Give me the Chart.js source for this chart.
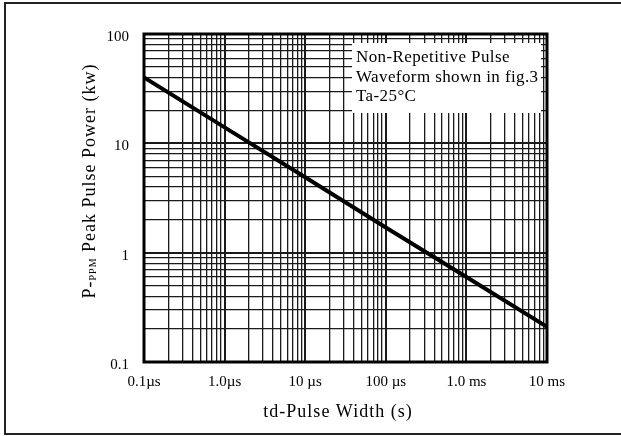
<!DOCTYPE html>
<html>
<head>
<meta charset="utf-8">
<script src="https://cdn.jsdelivr.net/npm/chart.js@4"></script>
<style>
  html, body { margin: 0; padding: 0; background: #fff; }
  canvas { display: block; }
</style>
</head>
<body>
<canvas id="chart" width="621" height="436"></canvas>
<script>
// Valores (anchura en s, potencia en kW)
const pulseWidth = [1e-7, 1e-6, 1e-5, 1e-4, 1e-3, 1e-2];
const peakPower = [40, 14, 4.9, 1.7, 0.6, 0.21];

// Décadas y etiquetas de los ejes
const xDecades = [1e-7, 1e-6, 1e-5, 1e-4, 1e-3, 1e-2];
const xTickLabels = ['0.1µs', '1.0µs', '10 µs', '100 µs', '1.0 ms', '10 ms'];
const yDecades = [0.1, 1, 10, 100];
const yTickLabels = ['0.1', '1', '10', '100'];

const noteLines = ['Non-Repetitive Pulse', 'Waveform shown in fig.3', 'Ta-25°C'];
const xTitle = 'td-Pulse Width (s)';

const serif = '"Liberation Serif", "DejaVu Serif", serif';

// Rejilla 1..9 en cada década
function logGrid(decades) {
    const ticks = [];
    decades.forEach((d, i) => {
        if (i === decades.length - 1) {
            ticks.push({ value: d });
            return;
        }
        for (let k = 1; k < 10; k++) {
            ticks.push({ value: Number((k * d).toPrecision(2)) });
        }
    });
    return ticks;
}

function labelFor(value, decades, labels) {
    const i = decades.findIndex(d => Math.abs(d - value) / d < 1e-6);
    return i >= 0 ? labels[i] : '';
}

function isDecade(value) {
    const l = Math.log10(value);
    return Math.abs(l - Math.round(l)) < 1e-6;
}

// Textos, recuadro y marcos
const annotate = {
    id: 'annotate',
    afterDraw(chart) {
        const { ctx, chartArea: a } = chart;
        ctx.save();

        // recuadro de la nota
        ctx.fillStyle = '#fff';
        ctx.fillRect(a.left + 208, a.top + 9, 189, 70);
        ctx.fillStyle = '#000';
        ctx.font = '17px ' + serif;
        ctx.letterSpacing = '0.4px';
        ctx.textBaseline = 'middle';
        ctx.textAlign = 'left';
        noteLines.forEach((t, i) => ctx.fillText(t, a.left + 212, a.top + 24 + i * 19.5));

        // marco del área de trazado
        ctx.lineWidth = 3;
        ctx.strokeStyle = '#000';
        ctx.strokeRect(a.left, a.top, a.right - a.left, a.bottom - a.top);

        // título eje X
        ctx.font = '18px ' + serif;
        ctx.letterSpacing = '1px';
        ctx.textAlign = 'center';
        ctx.fillText(xTitle, 338, 412);

        // título eje Y con subíndice
        const parts = [
            { text: 'P-', size: 18, dy: 0 },
            { text: 'PPM', size: 10, dy: 3 },
            { text: ' Peak Pulse Power (kw)', size: 18, dy: 0 }
        ];
        ctx.textAlign = 'left';
        let total = 0;
        parts.forEach(p => {
            ctx.font = p.size + 'px ' + serif;
            p.w = ctx.measureText(p.text).width;
            total += p.w;
        });
        ctx.translate(90, 181);
        ctx.rotate(-Math.PI / 2);
        let x = -total / 2;
        parts.forEach(p => {
            ctx.font = p.size + 'px ' + serif;
            ctx.fillText(p.text, x, p.dy);
            x += p.w;
        });
        ctx.restore();

        // marco exterior
        ctx.save();
        ctx.lineWidth = 2;
        ctx.strokeStyle = '#222';
        ctx.beginPath();
        ctx.moveTo(chart.width, 3);
        ctx.lineTo(5, 3);
        ctx.lineTo(5, 434);
        ctx.lineTo(chart.width, 434);
        ctx.stroke();
        ctx.restore();
    }
};

const gridStyle = {
    color: '#1a1a1a',
    lineWidth: c => (c.tick && isDecade(c.tick.value) ? 2 : 1.3),
    drawTicks: false
};

const ctx = document.getElementById('chart').getContext('2d');
const chart = new Chart(ctx, {
    type: 'scatter',
    data: {
        datasets: [{
            data: pulseWidth.map((x, i) => ({ x: x, y: peakPower[i] })),
            showLine: true,
            borderColor: '#000',
            borderWidth: 4,
            pointRadius: 0,
            tension: 0
        }]
    },
    options: {
        responsive: false,
        animation: false,
        layout: { padding: { top: 34, right: 74, left: 0, bottom: 0 } },
        plugins: {
            legend: { display: false },
            tooltip: { enabled: false }
        },
        scales: {
            x: {
                type: 'logarithmic',
                min: xDecades[0],
                max: xDecades[xDecades.length - 1],
                afterBuildTicks: s => { s.ticks = logGrid(xDecades); },
                afterFit: s => { s.height = 74; },
                grid: gridStyle,
                border: { display: false },
                ticks: {
                    autoSkip: false,
                    maxRotation: 0,
                    padding: 11,
                    color: '#000',
                    font: { family: serif, size: 15 },
                    callback: v => labelFor(v, xDecades, xTickLabels)
                }
            },
            y: {
                type: 'logarithmic',
                min: yDecades[0],
                max: yDecades[yDecades.length - 1],
                afterBuildTicks: s => { s.ticks = logGrid(yDecades); },
                afterFit: s => { s.width = 144; },
                grid: gridStyle,
                border: { display: false },
                ticks: {
                    autoSkip: false,
                    padding: 15,
                    labelOffset: 3,
                    color: '#000',
                    font: { family: serif, size: 15 },
                    callback: v => labelFor(v, yDecades, yTickLabels)
                }
            }
        }
    },
    plugins: [annotate]
});
</script>
</body>
</html>
